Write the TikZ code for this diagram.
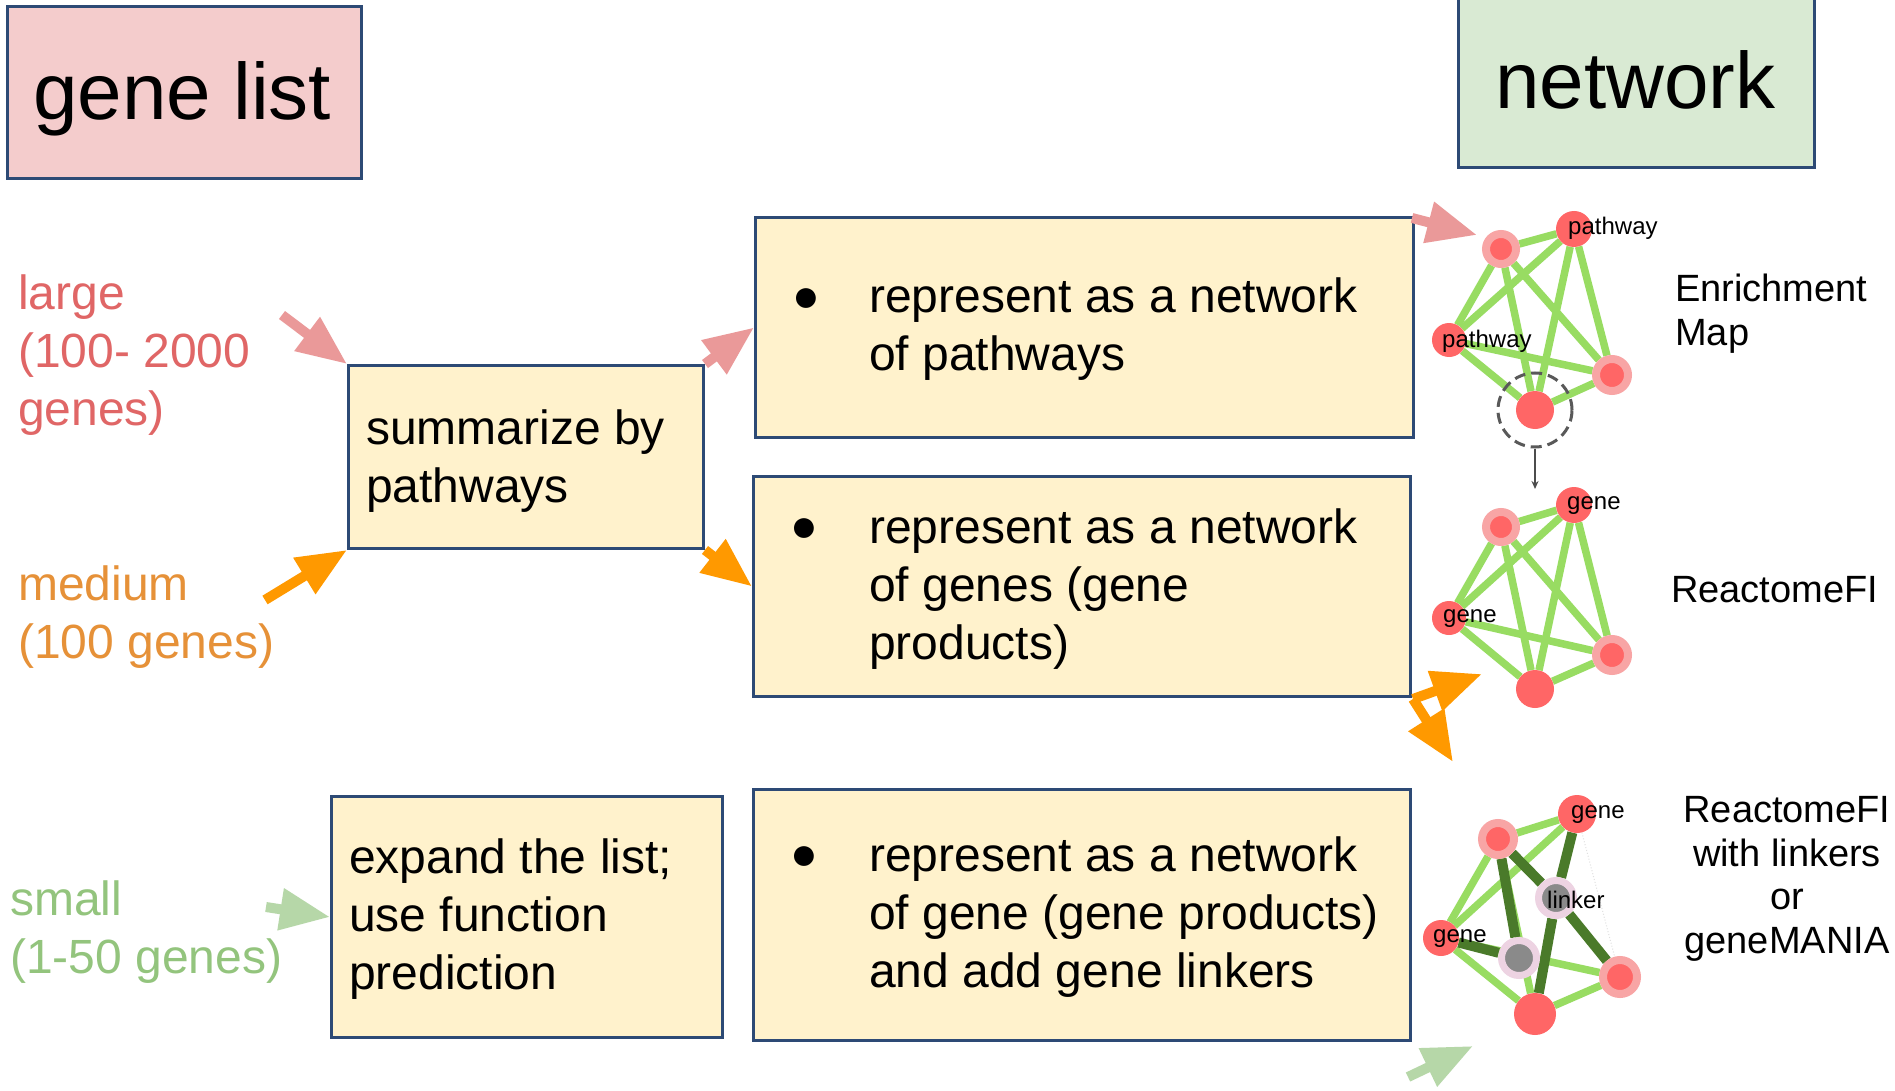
\documentclass[tikz,border=0pt]{standalone}
\usepackage{fontspec}
\setmainfont{Liberation Sans}
\usetikzlibrary{arrows.meta}
\pgfdeclarelayer{bg}
\pgfdeclarelayer{back}
\pgfsetlayers{back,bg,main}
\definecolor{boxfill}{HTML}{FFF2CC}
\definecolor{boxline}{HTML}{2D4A75}
\definecolor{genefill}{HTML}{F4CCCC}
\definecolor{netfill}{HTML}{D9EAD3}
\definecolor{largec}{HTML}{E06666}
\definecolor{mediumc}{HTML}{E69138}
\definecolor{smallc}{HTML}{93C47D}
\definecolor{pinkarrow}{HTML}{EA9999}
\definecolor{orangearrow}{HTML}{FF9900}
\definecolor{greenarrow}{HTML}{B6D7A8}
\definecolor{edgelight}{HTML}{98DC62}
\definecolor{edgedark}{HTML}{4A7A2A}
\definecolor{nodered}{HTML}{FF6666}
\definecolor{nodering}{HTML}{F8A5A5}
\definecolor{linkring}{HTML}{EDD3E2}
\definecolor{linkgray}{HTML}{8A8A8A}
\tikzset{
  box/.style={draw=boxline, line width=3pt, inner sep=0pt, anchor=north west},
  ybox/.style={box, fill=boxfill},
  bigtext/.style={font=\fontsize{48}{58}\selectfont, anchor=base west, inner sep=0pt, align=left},
  hugetext/.style={font=\fontsize{80}{96}\selectfont, anchor=base west, inner sep=0pt},
  sidetext/.style={font=\fontsize{38}{44}\selectfont, anchor=base west, inner sep=0pt, align=left},
  smalllab/.style={font=\fontsize{24}{28}\selectfont, anchor=base west, inner sep=0pt},
  bullettext/.style={font=\fontsize{46}{52}\selectfont, inner sep=0pt},
  blockarrow/.style={line width=10pt, -{Triangle[length=50pt, width=40pt]}},
  ringnode/.style={circle, fill=nodered, draw=nodering, line width=8pt, inner sep=0pt},
  rednode/.style={circle, fill=nodered, inner sep=0pt},
  linknode/.style={circle, fill=linkgray, draw=linkring, line width=7pt, inner sep=0pt, minimum size=35pt},
  elight/.style={draw=edgelight, line width=7.5pt},
  edark/.style={draw=edgedark, line width=10pt},
}
\begin{document}
\begin{tikzpicture}[x=1pt, y=-1pt]
\useasboundingbox (0,0) rectangle (1895,1091);
\begin{pgfonlayer}{back}
\fill[white] (0,0) rectangle (1895,1091);
\end{pgfonlayer}

% header boxes
\node[box, fill=genefill, minimum width=354pt, minimum height=172pt] (genelist) at (6,5) {};
\node[hugetext] (genelisttext) at (33,120) {gene list};
\node[box, fill=netfill, minimum width=356pt, minimum height=171pt] (network) at (1457,-5) {};
\node[hugetext] (networktext) at (1495,109) {network};

% left labels (anchor = baseline of last line)
\node[bigtext, text=largec] (large) at (18,425) {large\\(100- 2000\\genes)};
\node[bigtext, text=mediumc] (medium) at (18,658) {medium\\(100 genes)};
\node[bigtext, text=smallc] (small) at (10,973) {small\\(1-50 genes)};

% process boxes
\node[ybox, minimum width=355pt, minimum height=183pt] (sum) at (347,364) {};
\node[bigtext] (sumtext) at (366,502) {summarize by\\pathways};
\node[ybox, minimum width=391pt, minimum height=241pt] (expand) at (330,795) {};
\node[bigtext] (expandtext) at (349,989) {expand the list;\\use function\\prediction};

% representation boxes
\node[ybox, minimum width=658pt, minimum height=220pt] (top) at (754,216) {};
\node[bullettext] (b1) at (806,300) {●};
\node[bigtext] (toptext) at (869,370) {represent as a network\\of pathways};
\node[ybox, minimum width=657pt, minimum height=220pt] (mid) at (752,475) {};
\node[bullettext] (b2) at (804,530) {●};
\node[bigtext] (midtext) at (869,659) {represent as a network\\of genes (gene\\products)};
\node[ybox, minimum width=657pt, minimum height=251pt] (bot) at (752,788) {};
\node[bullettext] (b3) at (804,858) {●};
\node[bigtext] (bottext) at (869,987) {represent as a network\\of gene (gene products)\\and add gene linkers};

% right labels
\node[sidetext] (em) at (1675,345) {Enrichment\\Map};
\node[sidetext] (rfi) at (1671,602) {ReactomeFI};
\node[font=\fontsize{38}{43.5}\selectfont, anchor=base, inner sep=0pt, align=center] (rfil) at (1787,953) {ReactomeFI\\with linkers\\or\\geneMANIA};

% network 1
\node[ringnode, minimum size=30pt] (a1) at (1501,249) {};
\node[rednode, minimum size=36pt] (a2) at (1574,229) {};
\node[rednode, minimum size=34pt] (a3) at (1449,340) {};
\node[ringnode, minimum size=32pt] (a4) at (1612,375) {};
\node[rednode, minimum size=38pt] (a5) at (1535,410) {};
\begin{pgfonlayer}{bg}
\foreach \u/\v in {a1/a2,a1/a3,a1/a4,a1/a5,a2/a3,a2/a4,a2/a5,a3/a4,a3/a5,a4/a5}
  \draw[elight] (\u) -- (\v);
\end{pgfonlayer}
\node[smalllab] (a2lab) at (1568,235) {pathway};
\node[smalllab] (a3lab) at (1442,347) {pathway};
\node[circle, draw=black!65, line width=3pt, dash pattern=on 11pt off 6pt, minimum size=74pt, inner sep=0pt] (dc) at (1535,410) {};
\coordinate (dcend) at (1535,489);
\draw[black!70, line width=1.5pt, -{Stealth[length=8pt, width=7pt]}] (dc.south) -- (dcend);

% network 2
\node[ringnode, minimum size=30pt] (b1n) at (1501,527) {};
\node[rednode, minimum size=36pt] (b2n) at (1574,505) {};
\node[rednode, minimum size=34pt] (b3n) at (1449,618) {};
\node[ringnode, minimum size=32pt] (b4n) at (1612,655) {};
\node[rednode, minimum size=38pt] (b5n) at (1535,689) {};
\begin{pgfonlayer}{bg}
\foreach \u/\v in {b1n/b2n,b1n/b3n,b1n/b4n,b1n/b5n,b2n/b3n,b2n/b4n,b2n/b5n,b3n/b4n,b3n/b5n,b4n/b5n}
  \draw[elight] (\u) -- (\v);
\end{pgfonlayer}
\node[smalllab] (b2lab) at (1567,509) {gene};
\node[smalllab] (b3lab) at (1443,622) {gene};

% network 3
\node[ringnode, minimum size=32pt] (c1) at (1498,839) {};
\node[rednode, minimum size=38pt] (c2) at (1577,814) {};
\node[rednode, minimum size=36pt] (c3) at (1441,938) {};
\node[ringnode, minimum size=34pt] (c4) at (1620,977) {};
\node[rednode, minimum size=42pt] (c5) at (1535,1014) {};
\node[linknode] (l1) at (1556,898) {};
\node[linknode] (l2) at (1519,958) {};
\begin{pgfonlayer}{bg}
\draw[black!12, dotted, line width=1pt] (c2) -- (c4);
\foreach \u/\v in {c1/c2,c1/c3,c2/c3,c3/c5,c5/c4,c3/c4,c1/c5}
  \draw[elight] (\u) -- (\v);
\foreach \u/\v in {c1/l1,c1/l2,c2/l1,l1/c5,l1/c4,c3/l2}
  \draw[edark] (\u) -- (\v);
\end{pgfonlayer}
\node[smalllab] (c2lab) at (1571,818) {gene};
\node[smalllab] (l1lab) at (1547,908) {linker};
\node[smalllab] (c3lab) at (1433,942) {gene};

% block arrows
\coordinate (pk1) at (282,315);
\draw[blockarrow, pinkarrow] (pk1) -- (sum.north west);
\draw[blockarrow, pinkarrow] (sum.north east) -- (top.west);
\coordinate (pk3s) at (1412,218);
\coordinate (pk3e) at (1477,235);
\draw[blockarrow, pinkarrow] (pk3s) -- (pk3e);

\coordinate (or1) at (265,600);
\draw[blockarrow, orangearrow] (or1) -- (sum.south west);
\draw[blockarrow, orangearrow] (sum.south east) -- (mid.west);
\coordinate (or3) at (1482,674);
\coordinate (or4) at (1453,762);
\coordinate (or0) at (1413,699);
\draw[blockarrow, orangearrow] (or0) -- (or3);
\draw[blockarrow, orangearrow] (or0) -- (or4);

\coordinate (gr1) at (266,907);
\draw[blockarrow, greenarrow] (gr1) -- (expand.west);
\coordinate (gr2s) at (1408,1077);
\coordinate (gr2e) at (1473,1046);
\draw[blockarrow, greenarrow] (gr2s) -- (gr2e);
\end{tikzpicture}
\end{document}
